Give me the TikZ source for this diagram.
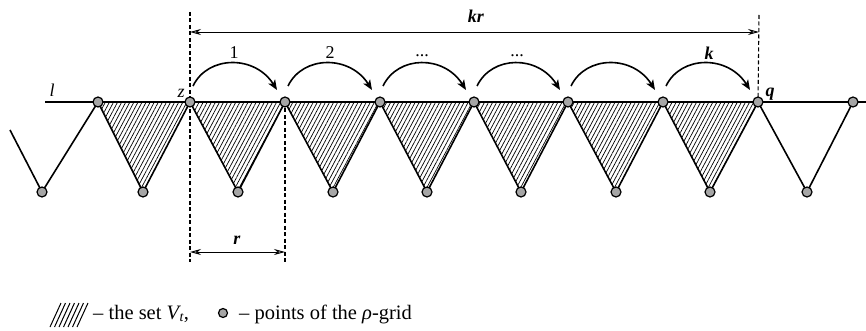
\documentclass[tikz,border=0pt]{standalone}
\usepackage{fontspec}
\setmainfont[Ligatures=TeX]{Liberation Serif}
\usetikzlibrary{patterns.meta,arrows.meta}
\begin{document}
\begin{tikzpicture}[x=1pt,y=-1pt,
  gridpt/.style={circle,draw=black,line width=1.2pt,fill=gray!70,inner sep=0pt,minimum size=10pt},
  edge/.style={line width=1.6pt,line join=round},
  hatched/.style={pattern={Lines[angle=62,distance=3.6pt,line width=0.7pt]}},
  dimline/.style={dashed,dash pattern=on 4pt off 2.5pt,line width=1.1pt},
  dimarr/.style={line width=0.9pt,{Stealth[length=11pt,width=6pt,fill=gray!60]}-{Stealth[length=11pt,width=6pt,fill=gray!60]}},
  jump/.style={line width=1.6pt,-{Stealth[length=10pt,width=8pt,inset=2.5pt]}},
  lab/.style={font=\fontsize{18}{18}\selectfont,inner sep=0pt},
  leg/.style={font=\fontsize{20.5}{20.5}\selectfont,inner sep=0pt,anchor=base west}]
\useasboundingbox (0,0) rectangle (866,331);
% top points
\foreach \n/\x in {1/98,2/190,3/285,4/380,5/474,6/568,7/663,8/758,9/853}
  \coordinate (t\n) at (\x,102);
% bottom points
\foreach \n/\x in {0/42,1/143,2/238,3/333,4/427,5/521,6/616,7/710,8/807}
  \coordinate (b\n) at (\x,192);
\coordinate (vstart) at (10,130);
\coordinate (lstart) at (45,102);
\coordinate (lend) at (866,102);
% hatched triangles
\foreach \i [evaluate=\i as \j using int(\i+1)] in {1,...,7}
  \path[hatched] (t\i) -- (t\j) -- (b\i) -- cycle;
\foreach \i [evaluate=\i as \j using int(\i+1)] in {1,...,7}
  \draw[edge] (t\i) -- (b\i) -- (t\j);
\draw[edge] (vstart) -- (b0) -- (t1);
\draw[edge] (t8) -- (b8) -- (t9);
\draw[edge] (lstart) -- (lend);
% dimension lines
\coordinate (zt) at (190,12);
\coordinate (zb) at (190,262);
\coordinate (rb) at (285,262);
\coordinate (qt) at (759,15);
\draw[dimline] (zt) -- (zb);
\draw[dimline] (t3) -- (rb);
\draw[dimline] (qt) -- (t8);
\coordinate (kra) at (190,32);
\coordinate (krb) at (759,32);
\draw[dimarr] (kra) -- (krb);
\coordinate (ra) at (190,252);
\coordinate (rb2) at (285,252);
\draw[dimarr] (ra) -- (rb2);
\node[lab] (krl) at (476,16) {\textbf{\textit{kr}}};
\node[lab] (rl) at (237,240) {\textbf{\textit{r}}};
% jumps
\foreach \i [evaluate=\i as \j using int(\i+1)] in {2,...,7}
  \draw[jump] ([xshift=3pt,yshift=16pt]t\i) .. controls ([xshift=18pt,yshift=47pt]t\i) and ([xshift=-30pt,yshift=47pt]t\j) .. ([xshift=-8pt,yshift=12pt]t\j);
\node[lab] (j1) at (234,53) {1};
\node[lab] (j2) at (330,53) {2};
\node[lab] (j3) at (422,56) {...};
\node[lab] (j4) at (517,56) {...};
\node[lab] (jk) at (709,53) {\textbf{\textit{k}}};
\node[lab] (ll) at (52,90) {\textit{l}};
\node[lab] (zl) at (181,93) {\textit{z}};
\node[lab] (ql) at (770,94) {\textbf{\textit{q}}};
% points
\foreach \n in {1,...,9} \node[gridpt] (T\n) at (t\n) {};
\foreach \n in {0,...,8} \node[gridpt] (B\n) at (b\n) {};
% legend
\foreach \k in {0,...,6}
  \draw[line width=1pt] (50+\k*4.5,327) -- (61+\k*4.5,303);
\node[leg] (lg1) at (93,319) {– the set \textit{V}\kern-1.5pt\raisebox{-0.3ex}{\fontsize{14}{14}\selectfont\textit{t}},};
\node[gridpt,minimum size=9pt] (lgpt) at (223,313) {};
\node[leg] (lg2) at (239,319) {– points of the \textit{ρ}-grid};
\end{tikzpicture}
\end{document}
